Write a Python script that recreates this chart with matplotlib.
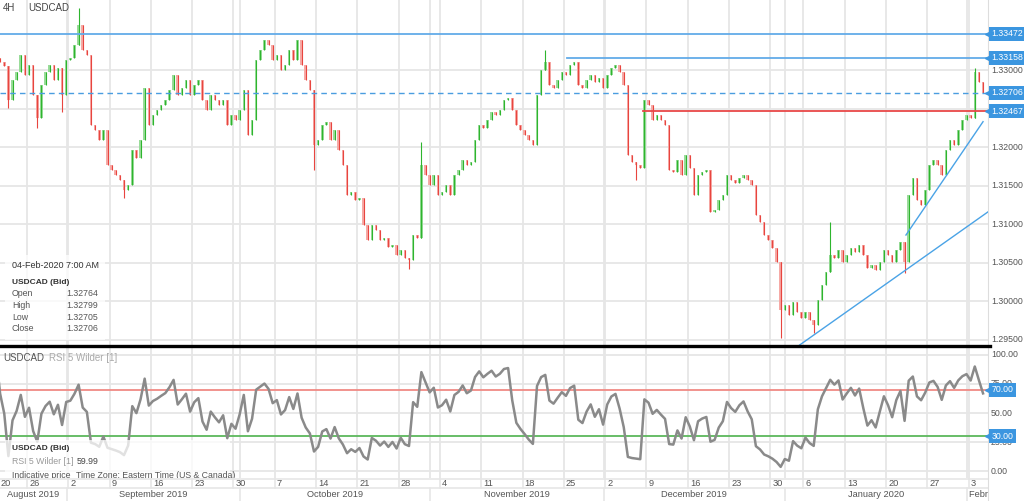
import numpy as np
import pandas as pd
import matplotlib
matplotlib.use("Agg")
import matplotlib.pyplot as plt
from matplotlib.patches import Rectangle
from matplotlib.lines import Line2D

plt.rcParams['font.family'] = ['Liberation Sans', 'DejaVu Sans']

# trading days on the chart, two 12h candles per day
days = pd.bdate_range('2019-08-20', '2020-02-04')
days = days[days != pd.Timestamp('2020-01-01')]
stamps = pd.DatetimeIndex([d + pd.Timedelta(hours=h) for d in days for h in (0, 12)])

first_open = 1.3313
close = [
    1.3316, 1.3310, 1.3305, 1.3261, 1.3287, 1.3297, 1.3319, 1.3294, 1.3306, 1.3268,
    1.3238, 1.3281, 1.3297, 1.3306, 1.3287, 1.3303, 1.3268, 1.3313, 1.3316, 1.3332,
    1.3358, 1.3326, 1.3319, 1.3229, 1.3222, 1.3209, 1.3222, 1.3177, 1.3170, 1.3164,
    1.3157, 1.3144, 1.3151, 1.3196, 1.3186, 1.3209, 1.3277, 1.3229, 1.3242, 1.3248,
    1.3255, 1.3261, 1.3274, 1.3294, 1.3268, 1.3277, 1.3287, 1.3268, 1.3281, 1.3287,
    1.3261, 1.3248, 1.3268, 1.3261, 1.3255, 1.3261, 1.3229, 1.3242, 1.3235, 1.3248,
    1.3274, 1.3216, 1.3235, 1.3313, 1.3326, 1.3339, 1.3332, 1.3313, 1.3319, 1.3300,
    1.3306, 1.3326, 1.3313, 1.3339, 1.3306, 1.3287, 1.3274, 1.3203, 1.3209, 1.3229,
    1.3232, 1.3209, 1.3222, 1.3196, 1.3177, 1.3138, 1.3142, 1.3131, 1.3134, 1.3099,
    1.3079, 1.3099, 1.3092, 1.3079, 1.3082, 1.3070, 1.3073, 1.3060, 1.3066, 1.3056,
    1.3053, 1.3086, 1.3082, 1.3177, 1.3164, 1.3151, 1.3164, 1.3138, 1.3142, 1.3151,
    1.3138, 1.3164, 1.3170, 1.3183, 1.3177, 1.3181, 1.3209, 1.3229, 1.3225, 1.3235,
    1.3245, 1.3242, 1.3248, 1.3261, 1.3264, 1.3248, 1.3229, 1.3222, 1.3216, 1.3209,
    1.3203, 1.3268, 1.3300, 1.3310, 1.3281, 1.3277, 1.3287, 1.3297, 1.3294, 1.3306,
    1.3310, 1.3281, 1.3277, 1.3287, 1.3294, 1.3284, 1.3290, 1.3277, 1.3294, 1.3303,
    1.3306, 1.3297, 1.3281, 1.3190, 1.3181, 1.3177, 1.3173, 1.3261, 1.3255, 1.3235,
    1.3242, 1.3235, 1.3229, 1.3170, 1.3168, 1.3183, 1.3164, 1.3190, 1.3173, 1.3138,
    1.3164, 1.3168, 1.3170, 1.3116, 1.3118, 1.3131, 1.3138, 1.3164, 1.3157, 1.3153,
    1.3160, 1.3164, 1.3157, 1.3151, 1.3112, 1.3103, 1.3086, 1.3079, 1.3069, 1.3051,
    1.2988, 1.2995, 1.2982, 1.2999, 1.2986, 1.2978, 1.2986, 1.2975, 1.2969, 1.3001,
    1.3021, 1.3038, 1.3060, 1.3056, 1.3066, 1.3051, 1.3060, 1.3069, 1.3064, 1.3073,
    1.3060, 1.3043, 1.3047, 1.3040, 1.3051, 1.3066, 1.3060, 1.3051, 1.3066, 1.3077,
    1.3051, 1.3138, 1.3160, 1.3131, 1.3125, 1.3144, 1.3177, 1.3183, 1.3177, 1.3164,
    1.3196, 1.3209, 1.3203, 1.3222, 1.3235, 1.3242, 1.3238, 1.3297, 1.3284, 1.32706,
]
# long wicks that stick out of the bodies
spike_idx = [3, 10, 16, 20, 31, 77, 100, 103, 133, 155, 190, 198, 202, 220, 237]
spike_price = [1.3251, 1.3225, 1.3245, 1.3381, 1.3134, 1.3170, 1.3042, 1.3206,
               1.3326, 1.3157, 1.2952, 1.2958, 1.3103, 1.3036, 1.3303]

blue_levels = [1.33472, 1.33158]
blue_level_start = ['2019-08-20 00:00', '2019-11-25 04:00']
last_price = 1.32706
red_level = 1.32467
red_level_start = '2019-12-06 08:00'
trend_long = (['2020-01-07 00:00', '2020-01-22 00:00'], [1.29558, 1.30392])
trend_short = (['2020-01-22 04:00', '2020-02-04 12:00'], [1.30857, 1.32329])

price_ticks = [1.295, 1.300, 1.305, 1.310, 1.315, 1.320, 1.325, 1.330]
rsi_ticks = [0, 25, 50, 75, 100]
rsi_levels = [70, 30]

info_time = '04-Feb-2020 7:00 AM'
info_names = ['Open', 'High', 'Low', 'Close']
info_values = ['1.32764', '1.32799', '1.32705', '1.32706']
rsi_last = '59.99'

W, H = 1024, 501
FS = 6.3
GREEN, GREEN_L = '#2eb52e', '#9adc9a'
RED, RED_L = '#e8453f', '#f6aaa6'
BLUE = '#3b96e0'
GRID = '#e6e6e6'
TXT = '#555555'


def pos(ts):
    return np.interp(pd.Timestamp(ts).value, stamps.values.astype('int64'),
                     np.arange(len(stamps)))


def fx(px):
    return px / W


def fy(py):
    return 1 - py / H


fig = plt.figure(figsize=(10.24, 5.01), dpi=100)
ax = fig.add_axes([0, fy(345), fx(988), 345 / H])
ax2 = fig.add_axes([0, fy(478), fx(988), 130 / H])
ax3 = fig.add_axes([0, 0, fx(988), 23 / H])
xlim = (0.97, 240.2)
for a in (ax, ax2, ax3):
    a.set_xlim(*xlim)
    a.set_xticks([])
    a.set_yticks([])
    for s in a.spines.values():
        s.set_visible(False)
    a.spines['right'].set_visible(True)
    a.spines['right'].set_color('#dddddd')
ax.set_ylim(1.29429, 1.33909)
ax2.set_ylim(-6, 106)
ax3.set_ylim(0, 23)

# grid
for p in price_ticks:
    ax.axhline(p, color=GRID, lw=1.3, zorder=0)
for r in rsi_ticks:
    ax2.axhline(r, color=GRID, lw=1.3, zorder=0)
ax3.axhline(13, color=GRID, lw=1.2)
ax3.axhline(22.5, color=GRID, lw=1.2)

day_list = list(days)
week_starts = [0] + [i for i, d in enumerate(day_list) if d.weekday() == 0]
month_starts = [i for i in range(1, len(day_list)) if day_list[i].month != day_list[i - 1].month]
for i in week_starts:
    xw = 2 * i - 0.5
    for a in (ax, ax2):
        a.axvline(xw, color=GRID, lw=1.3, zorder=0)
    ax3.plot([xw, xw], [13, 23], color=GRID, lw=1.2)
    ax3.text(max(xw + 0.5, xlim[0] + 0.2), 18, str(day_list[i].day), fontsize=FS + 0.4,
             color=TXT, ha='left', va='center', clip_on=True)
bounds = [xlim[0]] + [2 * i - 0.9 for i in month_starts] + [xlim[1]]
month_names = [day_list[0].strftime('%B %Y')] + [day_list[i].strftime('%B %Y') for i in month_starts]
for k, name in enumerate(month_names):
    if k > 0:
        xm = bounds[k]
        for a in (ax, ax2):
            a.axvline(xm, color=GRID, lw=1.3, zorder=0)
        ax3.plot([xm, xm], [0, 13], color=GRID, lw=1.2)
    if k == len(month_names) - 1:
        ax3.text(bounds[k] + 0.5, 6.5, name, fontsize=FS + 0.4, color=TXT,
                 ha='left', va='center', clip_on=True)
    else:
        ax3.text((bounds[k] + bounds[k + 1]) / 2, 6.5, name, fontsize=FS + 0.4,
                 color=TXT, ha='center', va='center', clip_on=True)

# candles
c = np.array(close)
o = np.r_[first_open, c[:-1]]
x = np.arange(len(c))
up = c >= o
ax.bar(x[up], (c - o)[up], bottom=o[up], width=0.62, color=GREEN_L, lw=0, zorder=2)
ax.bar(x[~up], (c - o)[~up], bottom=o[~up], width=0.62, color=RED_L, lw=0, zorder=2)
ax.vlines(x[up], o[up], c[up], color=GREEN, lw=0.8, zorder=3)
ax.vlines(x[~up], c[~up], o[~up], color=RED, lw=0.8, zorder=3)
for i, p in zip(spike_idx, spike_price):
    lo, hi = min(o[i], c[i], p), max(o[i], c[i], p)
    ax.vlines(i, lo, hi, color=GREEN if up[i] else RED, lw=0.8, zorder=3)

# levels and trend lines
for lvl, start in zip(blue_levels, blue_level_start):
    ax.plot([pos(start), xlim[1] + 1], [lvl, lvl], color='#62abe8', lw=1.3, zorder=4)
ax.axhline(last_price, color='#4a9de0', lw=1, ls=(0, (4, 3)), zorder=4)
ax.plot([pos(red_level_start), xlim[1] + 1], [red_level, red_level], color='#e84848',
        lw=1.3, zorder=4)
ax.axline((pos(trend_long[0][0]), trend_long[1][0]), (pos(trend_long[0][1]), trend_long[1][1]),
          color='#4aa3e6', lw=1, zorder=4)
ax.plot([pos(t) for t in trend_short[0]], trend_short[1], color='#4aa3e6', lw=1, zorder=4)

# right price scale
ytr = ax.get_yaxis_transform()
for p in price_ticks:
    ax.text(1.003, p, f'{p:.5f}', transform=ytr, fontsize=FS, color=TXT,
            ha='left', va='center', clip_on=False)
for lvl in blue_levels + [last_price, red_level]:
    ax.text(1.0035, lvl, f'{lvl:.5f}', transform=ytr, fontsize=FS, color='white',
            ha='left', va='center', clip_on=False, zorder=10,
            bbox=dict(boxstyle='square,pad=0.3', fc=BLUE, ec='none'))
    ax.plot([1.0], [lvl], marker='<', ms=4, color=BLUE, transform=ytr, clip_on=False, zorder=10)

# info box
ax.add_patch(Rectangle((5 / 988, 1 - 340 / 345), 100 / 988, 85 / 345,
                       transform=ax.transAxes, fc='white', ec='none', alpha=0.75, zorder=5))
ax.text(3 / 988, 1 - 8 / 345, '4H', transform=ax.transAxes, fontsize=FS + 0.7, color='#444444',
        va='center', zorder=6)
ax.text(28 / 988, 1 - 8 / 345, 'USDCAD', transform=ax.transAxes, fontsize=FS + 0.7,
        color='#444444', va='center', zorder=6)
ax.text(12 / 988, 1 - 265 / 345, info_time, transform=ax.transAxes, fontsize=FS + 0.2,
        color='#333333', va='center', zorder=6)
ax.text(12 / 988, 1 - 282 / 345, 'USDCAD (Bid)', transform=ax.transAxes, fontsize=FS - 0.3,
        color='#333333', weight='bold', va='center', zorder=6)
for k, (n, v) in enumerate(zip(info_names, info_values)):
    yy = 1 - (294 + 11.6 * k) / 345
    ax.text(12 / 988, yy, n, transform=ax.transAxes, fontsize=FS, color=TXT,
            va='center', zorder=6)
    ax.text(66 / 988, yy, v, transform=ax.transAxes, fontsize=FS, color=TXT,
            va='center', zorder=6)

# RSI panel
d = np.diff(np.r_[first_open, c])
gain = pd.Series(np.clip(d, 0, None)).ewm(alpha=1 / 5, adjust=False).mean()
loss = pd.Series(np.clip(-d, 0, None)).ewm(alpha=1 / 5, adjust=False).mean()
rsi = 100 - 100 / (1 + gain / loss)
ax2.axhline(rsi_levels[0], color='#f08a85', lw=1.3, zorder=1)
ax2.axhline(rsi_levels[1], color='#5cb85c', lw=1.3, zorder=1)
ax2.plot(x, rsi, color='#8a8a8a', lw=1.8, zorder=3)
rtr = ax2.get_yaxis_transform()
for r in rsi_ticks:
    ax2.text(1.003, r, f'{r:.2f}', transform=rtr, fontsize=FS, color=TXT,
             ha='left', va='center', clip_on=False)
for r in rsi_levels:
    ax2.text(1.0035, r, f'{r:.2f}', transform=rtr, fontsize=FS, color='white',
             ha='left', va='center', clip_on=False, zorder=10,
             bbox=dict(boxstyle='square,pad=0.3', fc=BLUE, ec='none'))
    ax2.plot([1.0], [r], marker='<', ms=4, color=BLUE, transform=rtr, clip_on=False, zorder=10)
ax2.add_patch(Rectangle((5 / 988, 0), 225 / 988, 38 / 130, transform=ax2.transAxes,
                        fc='white', ec='none', alpha=0.75, zorder=5))


def ty(py):
    return 1 - (py - 348) / 130


ax2.text(3 / 988, ty(358), 'USDCAD', transform=ax2.transAxes, fontsize=FS + 0.7, color=TXT,
         va='center', zorder=6)
ax2.text(49 / 988, ty(358), 'RSI 5 Wilder [1]', transform=ax2.transAxes, fontsize=FS + 0.7,
         color='#aaaaaa', va='center', zorder=6)
ax2.text(12 / 988, ty(448), 'USDCAD (Bid)', transform=ax2.transAxes, fontsize=FS - 0.3,
         color='#333333', weight='bold', va='center', zorder=6)
ax2.text(12 / 988, ty(461), 'RSI 5 Wilder [1]', transform=ax2.transAxes, fontsize=FS,
         color='#999999', va='center', zorder=6)
ax2.text(77 / 988, ty(461), rsi_last, transform=ax2.transAxes, fontsize=FS,
         color='#444444', va='center', zorder=6)
ax2.text(12 / 988, ty(475), 'Indicative price', transform=ax2.transAxes, fontsize=FS,
         color=TXT, va='center', zorder=6, clip_on=True)
ax2.text(76 / 988, ty(475), 'Time Zone: Eastern Time (US & Canada)', transform=ax2.transAxes,
         fontsize=FS, color=TXT, va='center', zorder=6, clip_on=True)

fig.add_artist(Line2D([0, fx(990)], [fy(346), fy(346)], color='black', lw=2.4))

fig.savefig('out.png', dpi=100)
